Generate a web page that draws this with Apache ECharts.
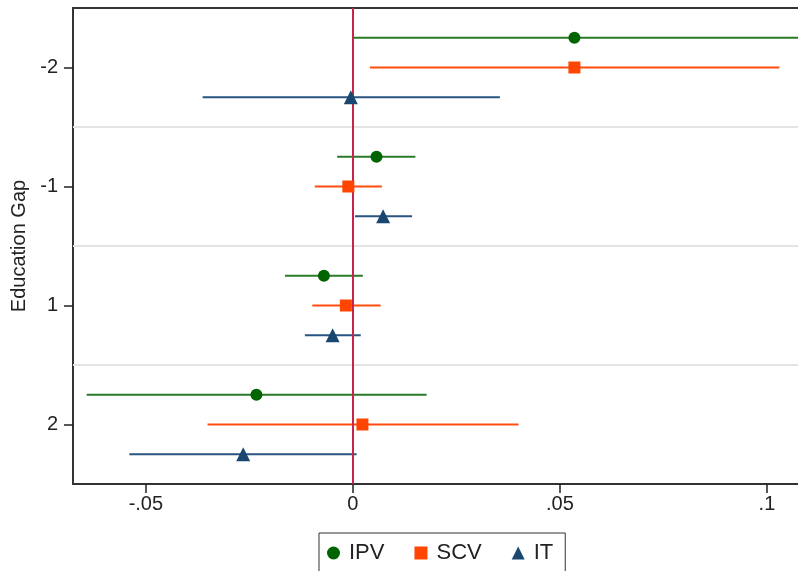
<!DOCTYPE html>
<html>
<head>
<meta charset="utf-8">
<script src="https://cdn.jsdelivr.net/npm/echarts@6/dist/echarts.min.js"></script>
<style>html,body{margin:0;padding:0;background:#fff}#c{width:798px;height:571px}</style>
</head>
<body>
<div id="c"></div>
<script>
const categories = ['-2', '-1', '1', '2'];
const xTickValues = [-0.05, 0, 0.05, 0.1];
const xTickLabels = ['-.05', '0', '.05', '.1'];
const seriesNames = ['IPV', 'SCV', 'IT'];

const ipvCoef = [0.0535, 0.0057, -0.0070, -0.0233];
const ipvLo   = [-0.0001, -0.0038, -0.0164, -0.0643];
const ipvHi   = [0.1100, 0.0151, 0.0024, 0.0178];

const scvCoef = [0.0535, -0.0011, -0.0017, 0.0023];
const scvLo   = [0.0041, -0.0092, -0.0098, -0.0351];
const scvHi   = [0.1030, 0.0070, 0.0067, 0.0400];

const itCoef  = [-0.0005, 0.0073, -0.0049, -0.0265];
const itLo    = [-0.0363, 0.0005, -0.0116, -0.0540];
const itHi    = [0.0355, 0.0143, 0.0019, 0.0009];

const groups = [
  {name: 'IPV', coef: ipvCoef, lo: ipvLo, hi: ipvHi, offset: -0.25, color: '#006400', lineColor: '#2a7a2a', symbol: 'circle', size: 12},
  {name: 'SCV', coef: scvCoef, lo: scvLo, hi: scvHi, offset: 0, color: '#ff4500', lineColor: '#ff4d0d', symbol: 'rect', size: 12},
  {name: 'IT',  coef: itCoef,  lo: itLo,  hi: itHi,  offset: 0.25, color: '#1a476f', lineColor: '#2a5580', symbol: 'triangle', size: 14}
];

const XMIN = -0.0676, XMAX = 0.1075;
const series = [];

groups.forEach(g => {
  const ciData = categories.map((c, i) => [g.lo[i], g.hi[i], i + 0.5 + g.offset]);
  series.push({
    name: g.name + ' CI',
    type: 'custom',
    xAxisIndex: 0, yAxisIndex: 1,
    clip: true,
    data: ciData,
    renderItem: function (params, api) {
      const p1 = api.coord([api.value(0), api.value(2)]);
      const p2 = api.coord([api.value(1), api.value(2)]);
      return {
        type: 'line',
        shape: {x1: p1[0], y1: p1[1], x2: p2[0], y2: p2[1]},
        style: {stroke: g.lineColor, lineWidth: 2}
      };
    },
    z: 3
  });
});

groups.forEach(g => {
  series.push({
    name: g.name,
    type: 'scatter',
    xAxisIndex: 0, yAxisIndex: 1,
    symbol: g.symbol,
    symbolSize: g.size,
    itemStyle: {color: g.color, opacity: 1},
    data: categories.map((c, i) => [g.coef[i], i + 0.5 + g.offset]),
    z: 5
  });
});

series.push({
  name: 'refs',
  type: 'line',
  xAxisIndex: 0, yAxisIndex: 1,
  data: [],
  markLine: {
    silent: true,
    symbol: 'none',
    label: {show: false},
    data: [
      {yAxis: 1, lineStyle: {color: '#e4e4e4', width: 2, type: 'solid'}},
      {yAxis: 2, lineStyle: {color: '#e4e4e4', width: 2, type: 'solid'}},
      {yAxis: 3, lineStyle: {color: '#e4e4e4', width: 2, type: 'solid'}}
    ]
  },
  z: 1
});
series.push({
  name: 'zero',
  type: 'line',
  xAxisIndex: 0, yAxisIndex: 1,
  data: [],
  markLine: {
    silent: true,
    symbol: 'none',
    label: {show: false},
    data: [{xAxis: 0, lineStyle: {color: '#c8234a', width: 2, type: 'solid'}}]
  },
  z: 4
});

const chart = echarts.init(document.getElementById('c'), null, {renderer: 'canvas'});
chart.setOption({
  animation: false,
  backgroundColor: '#ffffff',
  textStyle: {fontFamily: 'Liberation Sans, Arial, sans-serif'},
  grid: {left: 73, right: 0, top: 8, bottom: 87, containLabel: false, outerBoundsMode: 'none'},
  xAxis: [
    {
      type: 'value', min: XMIN, max: XMAX,
      axisLine: {show: true, onZero: false, lineStyle: {color: '#333', width: 2}},
      axisTick: {show: true, length: 9, customValues: xTickValues, lineStyle: {color: '#222', width: 1.5}},
      axisLabel: {
        customValues: xTickValues, fontSize: 20, color: '#222', margin: 10,
        formatter: function (v) { const i = xTickValues.findIndex(t => Math.abs(t - v) < 1e-9); return i >= 0 ? xTickLabels[i] : ''; }
      },
      splitLine: {show: false}
    },
    {
      type: 'value', position: 'top', min: XMIN, max: XMAX,
      axisLine: {show: true, onZero: false, lineStyle: {color: '#333', width: 2}},
      axisTick: {show: false}, axisLabel: {show: false}, splitLine: {show: false}
    }
  ],
  yAxis: [
    {
      type: 'category', data: categories, inverse: true, boundaryGap: true,
      name: 'Education Gap', nameLocation: 'middle', nameGap: 44,
      nameTextStyle: {fontSize: 20, color: '#222'},
      axisLine: {show: true, onZero: false, lineStyle: {color: '#333', width: 2}},
      axisTick: {show: true, alignWithLabel: true, length: 9, lineStyle: {color: '#222', width: 1.5}},
      axisLabel: {fontSize: 20, color: '#222', margin: 15},
      splitLine: {show: false}
    },
    {
      type: 'value', min: 0, max: 4, inverse: true, show: false,
      splitLine: {show: false}
    }
  ],
  legend: {
    data: seriesNames,
    left: 319, top: 533,
    orient: 'horizontal',
    itemWidth: 13, itemHeight: 13,
    itemGap: 30,
    padding: [9, 12, 20, 8],
    borderColor: '#333', borderWidth: 1,
    textStyle: {fontSize: 22, color: '#222', padding: [0, 0, 0, 4]}
  },
  series: series
});
</script>
</body>
</html>
